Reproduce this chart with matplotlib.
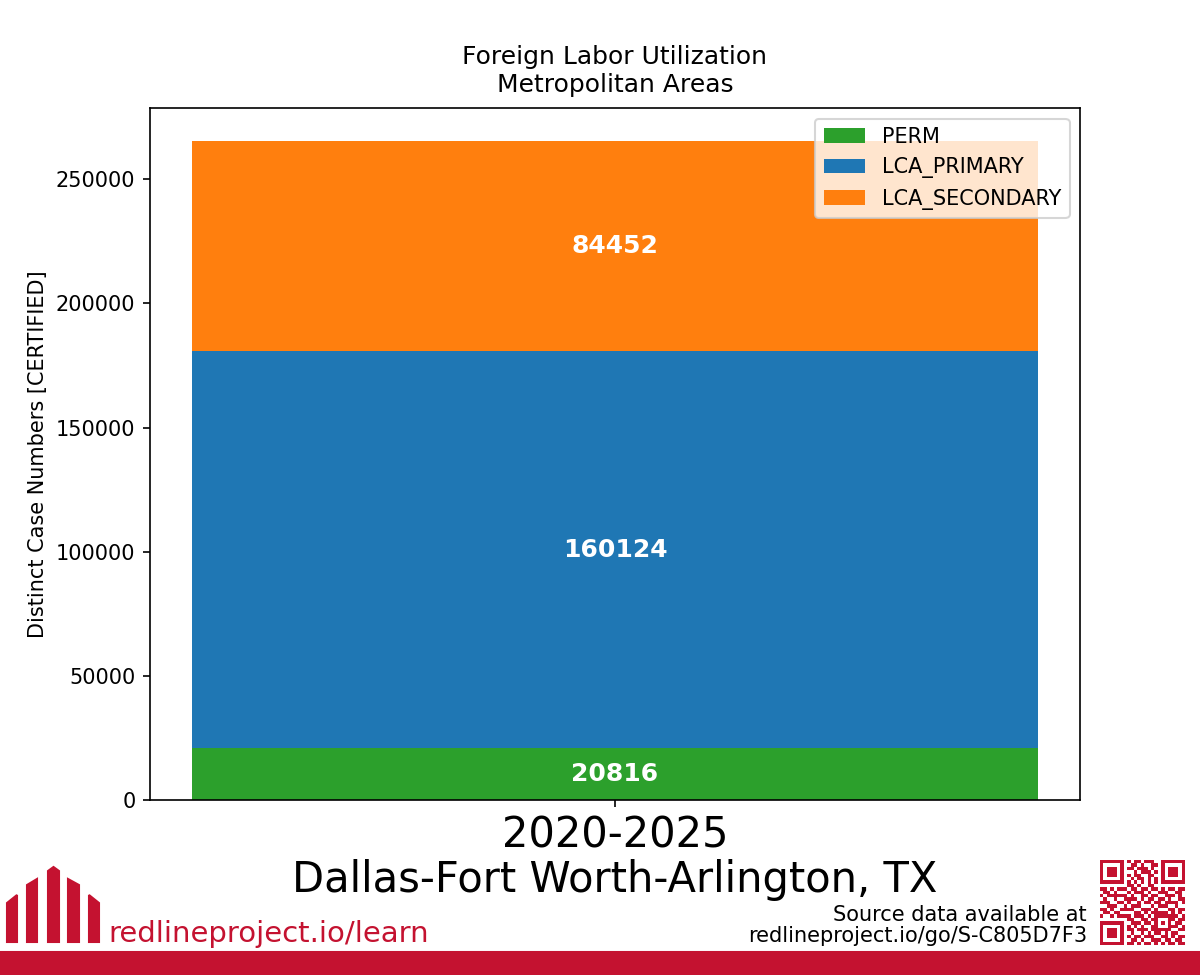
import numpy as np
import matplotlib
matplotlib.use("Agg")
import matplotlib.pyplot as plt
from matplotlib.patches import Polygon, Rectangle

# data
periods = ["2020-2025"]
perm = [20816]
lca_primary = [160124]
lca_secondary = [84452]
area = "Dallas-Fort Worth-Arlington, TX"
source_url = "redlineproject.io/go/S-C805D7F3"

red = "#C41230"

plt.rcParams["font.family"] = "DejaVu Sans"

fig = plt.figure(figsize=(8, 6.5), dpi=150)
fig.subplots_adjust(left=0.125, right=0.9, bottom=0.1795, top=0.889)
ax = fig.add_subplot(111)

b1 = ax.bar(periods, perm, color="#2ca02c", label="PERM")
b2 = ax.bar(periods, lca_primary, bottom=perm, color="#1f77b4", label="LCA_PRIMARY")
bottom2 = np.array(perm) + np.array(lca_primary)
b3 = ax.bar(periods, lca_secondary, bottom=bottom2, color="#ff7f0e", label="LCA_SECONDARY")
for bars in (b1, b2, b3):
    ax.bar_label(bars, label_type="center", color="white", fontweight="bold", fontsize=12)

ax.set_title("Foreign Labor Utilization\nMetropolitan Areas", fontsize=12, pad=8)
ax.set_ylabel("Distinct Case Numbers [CERTIFIED]", fontsize=10)
ax.set_xlabel(area, fontsize=20, labelpad=1)
ax.tick_params(axis="y", labelsize=10)
ax.tick_params(axis="x", labelsize=20)
ax.legend(loc="upper right", fontsize=10)

# footer: red band
fig.patches.append(Rectangle((0, 0), 1, 23 / 975, transform=fig.transFigure,
                             color=red, zorder=0))


def px(x, y):
    return (x / 1200, 1 - y / 975)


# logo bars
logo = [
    [(7, 942), (7, 903), (17, 895), (17, 942)],
    [(27, 942), (27, 885), (37, 879), (37, 942)],
    [(48, 942), (48, 871), (53.5, 867), (59, 871), (59, 942)],
    [(68, 942), (68, 879), (79, 885), (79, 942)],
    [(89, 942), (89, 895), (99, 903), (99, 942)],
]
for pts in logo:
    fig.patches.append(Polygon([px(*p) for p in pts], closed=True,
                               transform=fig.transFigure, color=red))
fig.text(*px(108, 942), "redlineproject.io/learn", color=red, fontsize=14,
         ha="left", va="baseline")

fig.text(*px(1087, 921), "Source data available at", fontsize=10,
         ha="right", va="baseline")
fig.text(*px(1087, 942), source_url, fontsize=10, ha="right", va="baseline")

qr_rows = [
    "1111111010110111001111111",
    "1000001001101001101000001",
    "1011101011011101001011101",
    "1011101000101110101011101",
    "1011101010110011001011101",
    "1000001001011010101000001",
    "1111111010101010101111111",
    "0000000011010011000000000",
    "1101011101101101101011011",
    "0110100010111010011100110",
    "1011111101001101100111010",
    "0100100111101011011010011",
    "1110011010010110110111101",
    "0011100101110001011100100",
    "1101001111001110100011011",
    "0110110000110101111101010",
    "1001011110111010111111101",
    "0000000011001101100011011",
    "1111111001110110101010110",
    "1000001010101001100011101",
    "1011101011011101111110011",
    "1011101001001010110101100",
    "1011101010110111001101011",
    "1000001001101001110110110",
    "1111111011010110101011011",
]
qr = np.array([[int(c) for c in row] for row in qr_rows])
qax = fig.add_axes([1100 / 1200, 1 - 945 / 975, 85 / 1200, 85 / 975])
qax.imshow(qr, cmap=matplotlib.colors.ListedColormap(["white", red]),
           interpolation="nearest", aspect="auto")
qax.axis("off")

fig.savefig("out.png", dpi=150)
